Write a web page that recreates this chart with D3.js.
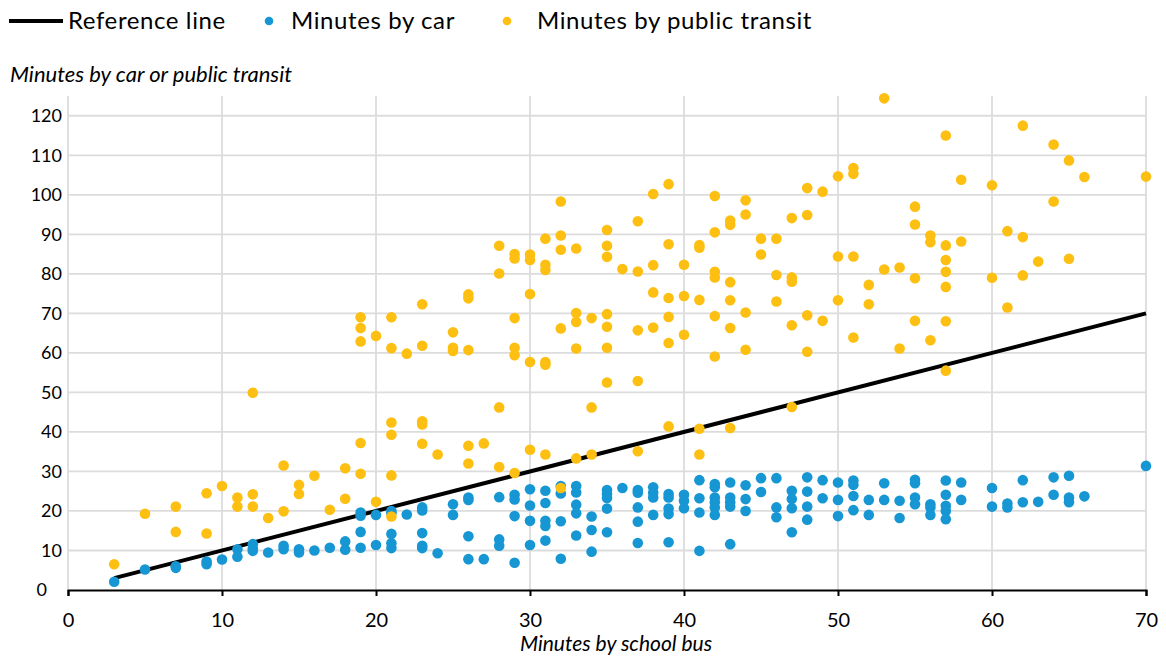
<!DOCTYPE html>
<html>
<head>
<meta charset="utf-8">
<script src="https://cdn.jsdelivr.net/npm/d3@7"></script>
<style>
  html, body { margin: 0; padding: 0; background: #ffffff; }
  svg { display: block; font-family: Lato, "Noto Sans", sans-serif; }
</style>
</head>
<body>
<svg id="chart" width="1166" height="656"></svg>
<script>
// Travel time comparisons: [minutes by school bus, minutes by other mode]
const carPoints = [[3,2.1],[5,5.2],[7,6.0],[7,5.6],[9,7.2],[9,6.5],[10,7.7],[11,10.3],[11,8.4],[12,11.6],[12,10.5],[12,9.9],[13,9.5],[14,11.2],[14,10.3],[15,10.3],[15,9.5],[16,10],[17,10.7],[18,12.3],[18,10.2],[19,19.6],[19,18.8],[19,14.7],[19,10.7],[20,19.0],[20,11.4],[21,20],[21,19.4],[21,14.2],[21,11.8],[21,10.6],[22,19.1],[23,20.9],[23,20.1],[23,14.4],[23,11.2],[23,10.6],[24,9.3],[25,21.7],[25,19],[26,23.4],[26,22.8],[26,13.6],[26,7.8],[27,7.8],[28,23.5],[28,12.8],[28,11.2],[29,24.1],[29,22.9],[29,18.7],[29,6.9],[30,25.5],[30,21.4],[30,17.5],[30,11.4],[31,25.1],[31,22],[31,17.5],[31,16.2],[31,12.5],[32,26.3],[32,24.4],[32,17.4],[32,7.9],[33,26.3],[33,24.7],[33,21.6],[33,19.4],[33,13.8],[34,18.6],[34,15.2],[34,9.7],[35,25.3],[35,24.3],[35,23.3],[35,20.6],[35,14.6],[36,25.8],[37,25.3],[37,24.6],[37,20.9],[37,17.3],[37,11.9],[38,26],[38,24.6],[38,23.4],[38,19],[39,24.3],[39,23.4],[39,20.6],[39,19.2],[39,12.1],[40,24.1],[40,22.6],[40,20.7],[41,27.8],[41,23.2],[41,19.6],[41,9.9],[42,26.8],[42,26],[42,23.4],[42,22.2],[42,20.9],[42,19],[43,27.2],[43,23.4],[43,22.2],[43,21.1],[43,11.6],[44,26.5],[44,23],[44,20],[45,28.3],[45,24.8],[46,28.3],[46,20.9],[46,18.4],[47,25.1],[47,23],[47,20.7],[47,14.6],[48,28.5],[48,24.9],[48,21.1],[48,17.8],[49,27.8],[49,23.2],[50,27.2],[50,22.8],[50,18.7],[51,27.7],[51,26.6],[51,23.8],[51,20.2],[52,22.8],[52,19],[53,27],[53,22.8],[54,22.6],[54,18.2],[55,27.9],[55,27],[55,23.4],[55,21.7],[56,21.7],[56,20.9],[56,19],[57,27.7],[57,24.1],[57,21.3],[57,20],[57,17.9],[58,27.2],[58,22.8],[60,25.8],[60,21.1],[61,21.9],[61,20.9],[62,27.8],[62,22.2],[63,22.3],[64,28.5],[64,24.1],[65,28.9],[65,23.4],[65,22.2],[66,23.7],[70,31.4]];

const transitPoints = [[3,6.5],[5,19.3],[7,21.1],[7,14.7],[9,24.5],[9,14.3],[10,26.3],[11,23.4],[11,21.1],[12,49.9],[12,24.2],[12,21.1],[13,18.2],[14,31.5],[14,19.9],[15,26.6],[15,24.3],[16,28.9],[17,20.3],[18,30.8],[18,23.1],[19,69],[19,66.3],[19,62.9],[19,37.2],[19,29.4],[20,64.3],[20,22.3],[21,69],[21,61.2],[21,42.4],[21,39.3],[21,29],[21,18.6],[22,59.8],[23,72.3],[23,61.8],[23,42.7],[23,41.9],[23,37],[24,34.3],[25,65.2],[25,61.3],[25,60.5],[26,74.8],[26,73.8],[26,60.7],[26,36.5],[26,32],[27,37.1],[28,87.1],[28,80.1],[28,46.2],[28,31.1],[29,85],[29,83.9],[29,68.8],[29,61.3],[29,59.4],[29,29.6],[30,84.9],[30,83.5],[30,74.9],[30,57.7],[30,35.5],[31,88.9],[31,82.3],[31,81],[31,57.7],[31,57],[31,34.3],[32,98.3],[32,89.7],[32,86.1],[32,66.2],[32,25.8],[33,86.4],[33,70.1],[33,67.8],[33,61.1],[33,33.3],[34,68.8],[34,46.2],[34,34.3],[35,91.1],[35,87.1],[35,84.3],[35,69.8],[35,66.6],[35,61.3],[35,52.5],[36,81.2],[37,93.3],[37,80.6],[37,65.7],[37,52.9],[37,35.1],[38,100.2],[38,82.2],[38,75.3],[38,66.4],[39,102.7],[39,87.5],[39,73.9],[39,69.1],[39,62.5],[39,41.4],[40,82.3],[40,74.4],[40,64.6],[41,87.3],[41,86.6],[41,73.4],[41,40.8],[41,34.3],[42,99.7],[42,90.5],[42,80.5],[42,79.1],[42,69.3],[42,59.1],[43,93.5],[43,92.4],[43,77.9],[43,73.3],[43,66.3],[43,41],[44,98.6],[44,95],[44,70.2],[44,60.8],[45,88.9],[45,84.9],[46,88.9],[46,79.7],[46,73],[47,94.1],[47,79.1],[47,78],[47,67],[47,46.3],[48,101.7],[48,94.9],[48,69.5],[48,60.3],[49,100.8],[49,68.1],[50,104.7],[50,84.4],[50,73.3],[51,106.8],[51,105.3],[51,84.4],[51,63.9],[52,77.2],[52,72.3],[53,124.4],[53,81.1],[54,81.6],[54,61.1],[55,97],[55,92.5],[55,78.9],[55,68.1],[56,89.7],[56,88],[56,63.2],[57,115],[57,87.2],[57,83.5],[57,80.5],[57,76.7],[57,68],[57,55.5],[58,103.8],[58,88.2],[60,102.4],[60,79],[61,90.8],[61,71.5],[62,117.5],[62,89.3],[62,79.6],[63,83.1],[64,112.7],[64,98.3],[65,108.7],[65,83.8],[66,104.5],[70,104.6]];

// Equal-time reference line endpoints
const referenceLine = [[3,3],[70,70]];

const xTicks = [0,10,20,30,40,50,60,70];
const yTicks = [0,10,20,30,40,50,60,70,80,90,100,110,120];

const COLORS = { car: "#1696d2", transit: "#fdbf11", ref: "#000000", grid: "#dcdcdc" };

const svg = d3.select("#chart");
const plot = { left: 68, right: 1146, top: 96, bottom: 590 };

const x = d3.scaleLinear().domain([0, 70]).range([plot.left, plot.right]);
const y = d3.scaleLinear().domain([0, 125]).range([plot.bottom, plot.top]);

// Gridlines
const grid = svg.append("g");
grid.selectAll("line.h").data(yTicks.filter(d => d > 0)).join("line")
  .attr("x1", plot.left).attr("x2", plot.right)
  .attr("y1", d => y(d)).attr("y2", d => y(d))
  .attr("stroke", COLORS.grid).attr("stroke-width", 1.8);
grid.selectAll("line.v").data(xTicks).join("line")
  .attr("x1", d => x(d)).attr("x2", d => x(d))
  .attr("y1", plot.top).attr("y2", plot.bottom)
  .attr("stroke", COLORS.grid).attr("stroke-width", 1.8);

// Y axis labels
const yAxis = svg.append("g")
  .attr("transform", `translate(${plot.left},0)`)
  .call(d3.axisLeft(y).tickValues(yTicks).tickSize(0).tickPadding(6));
yAxis.select(".domain").remove();
yAxis.selectAll("text").attr("font-size", 18).attr("fill", "#000")
  .attr("font-family", "Lato, sans-serif");
// the zero label sits further left, clear of the x axis ticks
yAxis.selectAll(".tick").filter(d => d === 0).select("text").attr("x", -21);

// X axis
const xAxis = svg.append("g")
  .attr("transform", `translate(0,${plot.bottom})`)
  .call(d3.axisBottom(x).tickValues(xTicks).tickSize(6).tickPadding(17));
xAxis.select(".domain").attr("stroke", "#000").attr("stroke-width", 2);
xAxis.selectAll(".tick line").attr("stroke", "#000").attr("stroke-width", 2);
xAxis.selectAll("text").attr("font-size", 20).attr("fill", "#000")
  .attr("font-family", "Lato, sans-serif");

// Reference line
svg.append("path")
  .datum(referenceLine)
  .attr("d", d3.line().x(d => x(d[0])).y(d => y(d[1])))
  .attr("fill", "none").attr("stroke", COLORS.ref).attr("stroke-width", 4);

// Points
svg.append("g").selectAll("circle").data(carPoints).join("circle")
  .attr("cx", d => x(d[0])).attr("cy", d => y(d[1])).attr("r", 5.3)
  .attr("fill", COLORS.car);
svg.append("g").selectAll("circle").data(transitPoints).join("circle")
  .attr("cx", d => x(d[0])).attr("cy", d => y(d[1])).attr("r", 5.3)
  .attr("fill", COLORS.transit);

// Axis titles
svg.append("text").attr("x", 10).attr("y", 82)
  .attr("font-size", 22).attr("font-style", "italic")
  .text("Minutes by car or public transit");
svg.append("text").attr("x", 616).attr("y", 651)
  .attr("text-anchor", "middle").attr("font-size", 21).attr("font-style", "italic")
  .text("Minutes by school bus");

// Legend
const legend = svg.append("g").attr("font-size", 24).attr("letter-spacing", 0.6);
legend.append("line").attr("x1", 9).attr("x2", 63).attr("y1", 21).attr("y2", 21)
  .attr("stroke", COLORS.ref).attr("stroke-width", 4);
legend.append("text").attr("x", 68).attr("y", 29).text("Reference line");
legend.append("circle").attr("cx", 269).attr("cy", 21).attr("r", 4.3).attr("fill", COLORS.car);
legend.append("text").attr("x", 291).attr("y", 29).text("Minutes by car");
legend.append("circle").attr("cx", 507).attr("cy", 21).attr("r", 4.3).attr("fill", COLORS.transit);
legend.append("text").attr("x", 537).attr("y", 29).text("Minutes by public transit");
</script>
</body>
</html>
